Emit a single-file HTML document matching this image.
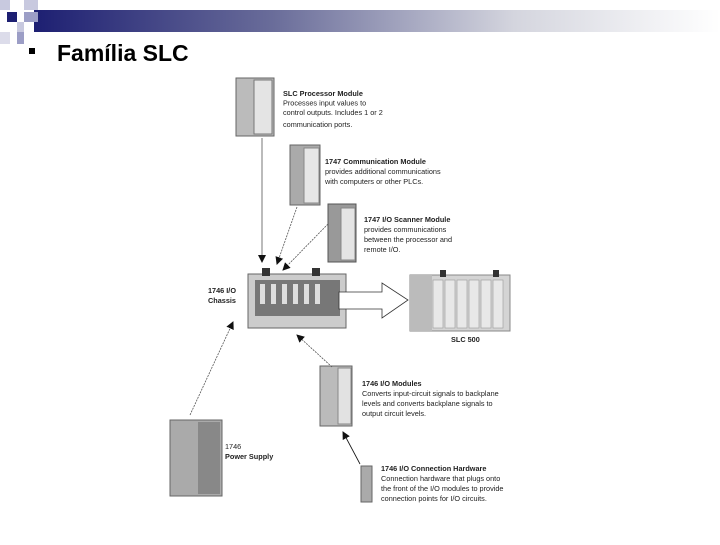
<!DOCTYPE html>
<html><head><meta charset="utf-8"><style>
body{margin:0;width:720px;height:540px;background:#fff;overflow:hidden;font-family:"Liberation Sans",sans-serif}
</style></head><body>
<svg width="720" height="540" viewBox="0 0 720 540" xmlns="http://www.w3.org/2000/svg" font-family="Liberation Sans, sans-serif">
<defs>
<linearGradient id="g" x1="0" x2="1"><stop offset="0" stop-color="#1d1f72"/><stop offset="0.35" stop-color="#6a6d9a"/><stop offset="0.7" stop-color="#d4d5de"/><stop offset="1" stop-color="#fff"/></linearGradient>
<marker id="a" markerWidth="8" markerHeight="8" refX="7" refY="4" orient="auto" markerUnits="userSpaceOnUse"><path d="M0,0 L8,4 L0,8z" fill="#111"/></marker>
</defs>
<rect x="34" y="10" width="686" height="22" fill="url(#g)"/>
<rect x="0" y="0" width="10" height="10" fill="#c8c9df"/>
<rect x="24" y="0" width="14" height="10" fill="#c8c9df"/>
<rect x="7" y="12" width="10" height="10" fill="#1d1f72"/>
<rect x="24" y="12" width="14" height="10" fill="#9c9ec6"/>
<rect x="17" y="22" width="7" height="10" fill="#c8c9df"/>
<rect x="0" y="32" width="10" height="12" fill="#dcdcea"/>
<rect x="17" y="32" width="7" height="12" fill="#9c9ec6"/>
<rect x="29" y="48" width="6" height="6" fill="#000"/>
<text x="57" y="61" font-size="23" font-weight="bold" fill="#000">Família SLC</text>

<rect x="236" y="78" width="38" height="58" fill="#bbb" stroke="#666"/>
<rect x="254" y="80" width="18" height="54" fill="#e4e4e4" stroke="#777"/>
<rect x="290" y="145" width="30" height="60" fill="#aaa" stroke="#666"/>
<rect x="304" y="148" width="15" height="55" fill="#e6e6e6" stroke="#888"/>
<rect x="328" y="204" width="28" height="58" fill="#999" stroke="#555"/>
<rect x="341" y="208" width="14" height="52" fill="#e4e4e4" stroke="#888"/>
<rect x="248" y="274" width="98" height="54" fill="#ccc" stroke="#666"/>
<rect x="255" y="280" width="85" height="36" fill="#777"/>
<g fill="#ddd"><rect x="260" y="284" width="5" height="20"/><rect x="271" y="284" width="5" height="20"/><rect x="282" y="284" width="5" height="20"/><rect x="293" y="284" width="5" height="20"/><rect x="304" y="284" width="5" height="20"/><rect x="315" y="284" width="5" height="20"/></g>
<rect x="262" y="268" width="8" height="8" fill="#333"/><rect x="312" y="268" width="8" height="8" fill="#333"/>
<path d="M339,292 L382,292 L382,283 L408,300 L382,318 L382,309 L339,309z" fill="#fff" stroke="#333" stroke-width="0.8"/>
<rect x="410" y="275" width="100" height="56" fill="#d4d4d4" stroke="#888"/>
<rect x="410" y="275" width="22" height="56" fill="#bbb"/>
<g fill="#e8e8e8" stroke="#999" stroke-width="0.6"><rect x="433" y="280" width="10" height="48"/><rect x="445" y="280" width="10" height="48"/><rect x="457" y="280" width="10" height="48"/><rect x="469" y="280" width="10" height="48"/><rect x="481" y="280" width="10" height="48"/><rect x="493" y="280" width="10" height="48"/></g>
<rect x="440" y="270" width="6" height="7" fill="#333"/><rect x="493" y="270" width="6" height="7" fill="#333"/>
<rect x="170" y="420" width="52" height="76" fill="#aaa" stroke="#666"/>
<rect x="198" y="422" width="22" height="72" fill="#888"/>
<rect x="320" y="366" width="32" height="60" fill="#bbb" stroke="#666"/>
<rect x="338" y="368" width="13" height="56" fill="#e2e2e2" stroke="#888"/>
<rect x="361" y="466" width="11" height="36" fill="#aaa" stroke="#666"/>

<g stroke="#555" stroke-width="0.8" fill="none" marker-end="url(#a)">
<line x1="262" y1="138" x2="262" y2="262"/>
<line x1="297" y1="207" x2="277" y2="264" stroke-dasharray="2,1"/>
<line x1="328" y1="224" x2="283" y2="270" stroke-dasharray="2,1"/>
<line x1="190" y1="415" x2="233" y2="322" stroke-dasharray="2,1"/>
<line x1="332" y1="367" x2="297" y2="335" stroke-dasharray="2,1"/>
<line x1="360" y1="464" x2="343" y2="432" stroke="#111"/>
</g>

<g font-size="7.3" fill="#222">
<text x="283" y="96" font-weight="bold">SLC Processor Module</text>
<text x="283" y="105.5">Processes input values to</text>
<text x="283" y="115">control outputs. Includes 1 or 2</text>
<text x="283" y="127">communication ports.</text>
<text x="325" y="164" font-weight="bold">1747 Communication Module</text>
<text x="325" y="174">provides additional communications</text>
<text x="325" y="184">with computers or other PLCs.</text>
<text x="364" y="222" font-weight="bold">1747 I/O Scanner Module</text>
<text x="364" y="232">provides communications</text>
<text x="364" y="242">between the processor and</text>
<text x="364" y="252">remote I/O.</text>
<text x="208" y="293" font-weight="bold">1746 I/O</text>
<text x="208" y="303" font-weight="bold">Chassis</text>
<text x="451" y="342" font-weight="bold">SLC 500</text>
<text x="362" y="386" font-weight="bold">1746 I/O Modules</text>
<text x="362" y="396">Converts input-circuit signals to backplane</text>
<text x="362" y="406">levels and converts backplane signals to</text>
<text x="362" y="416">output circuit levels.</text>
<text x="225" y="449">1746</text>
<text x="225" y="459" font-weight="bold">Power Supply</text>
<text x="381" y="471" font-weight="bold">1746 I/O Connection Hardware</text>
<text x="381" y="481">Connection hardware that plugs onto</text>
<text x="381" y="491">the front of the I/O modules to provide</text>
<text x="381" y="501">connection points for I/O circuits.</text>
</g>
</svg>
</body></html>
